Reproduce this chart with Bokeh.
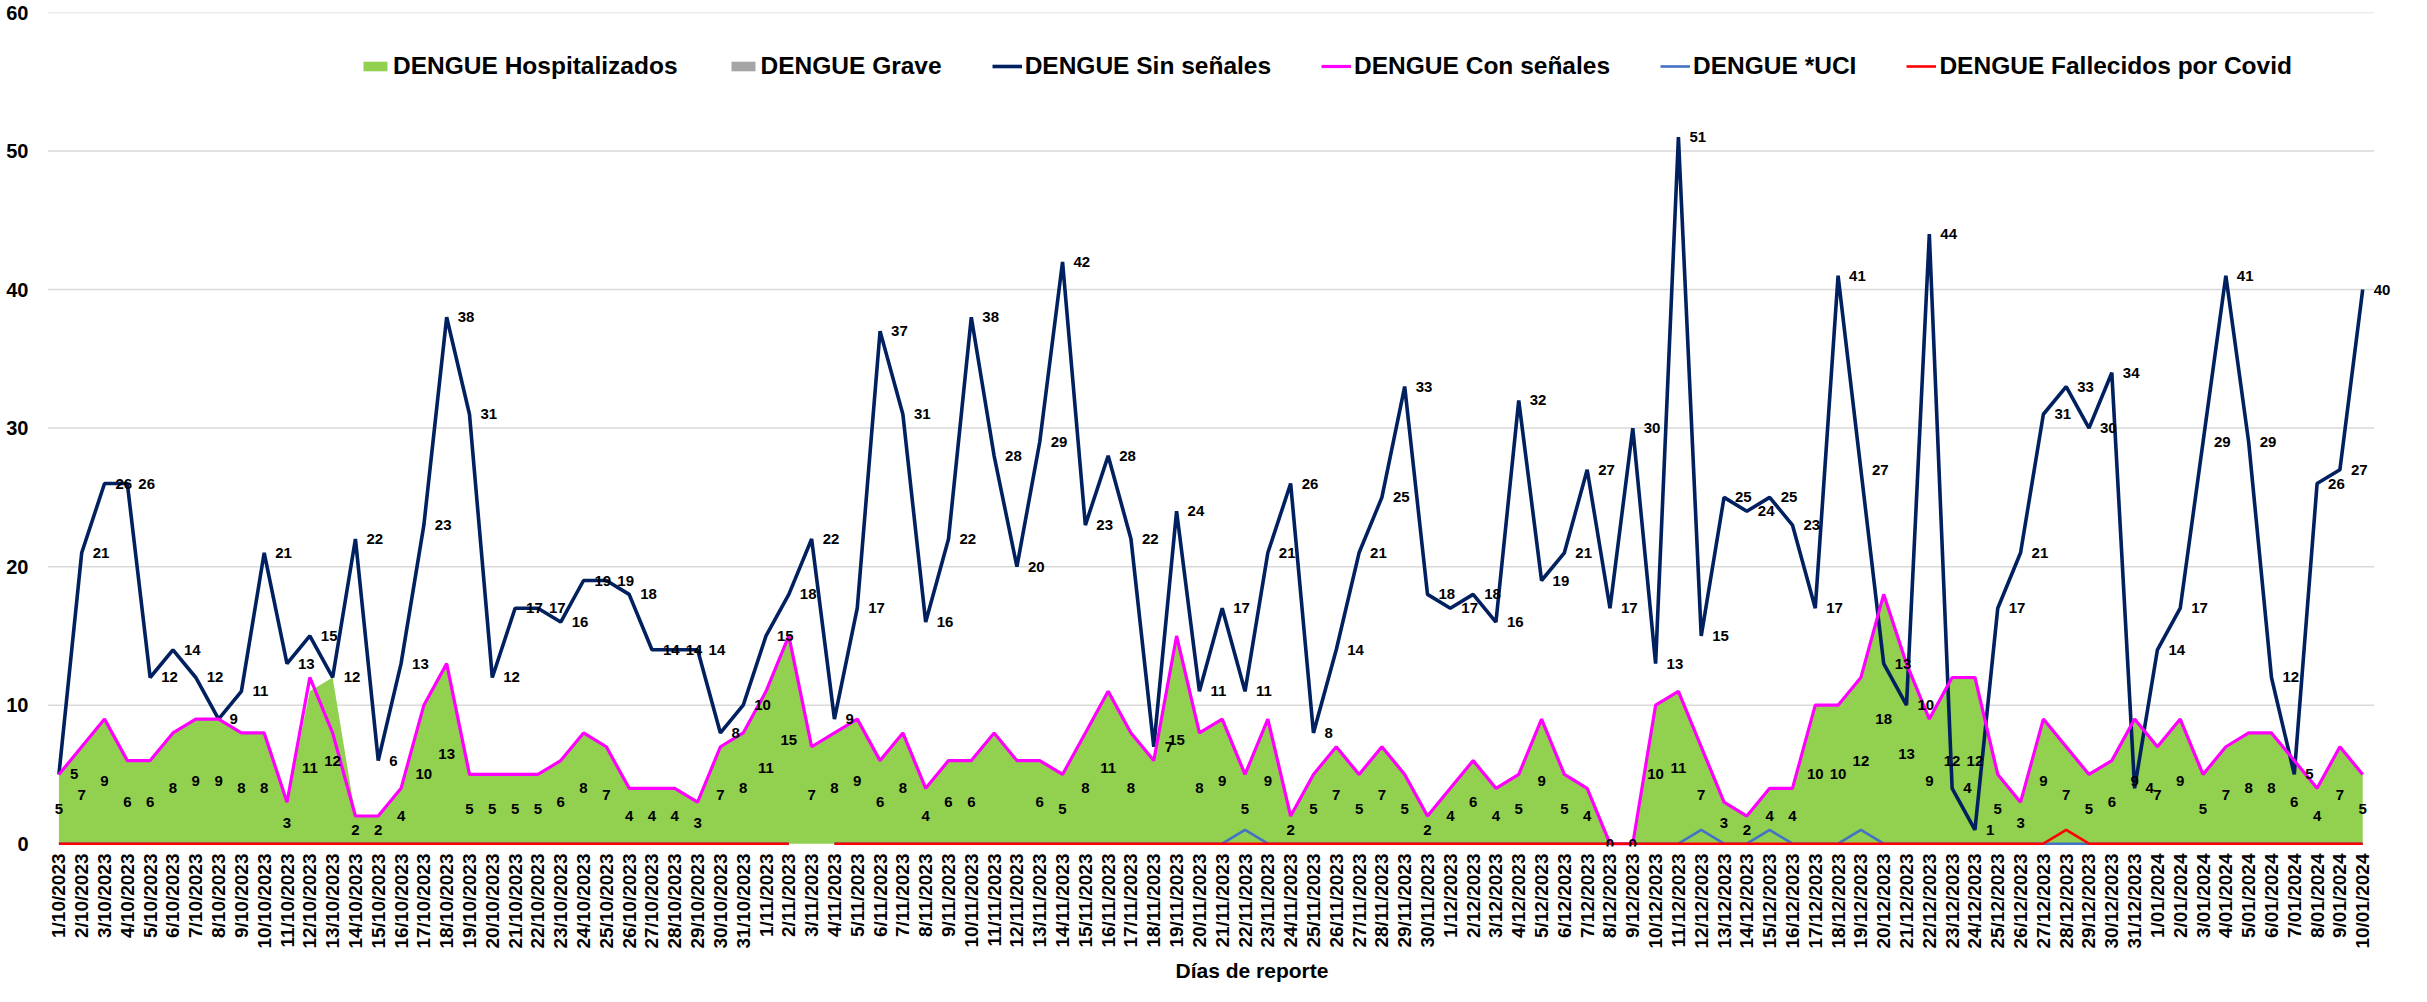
from bokeh.plotting import figure
from bokeh.models import (ColumnDataSource, LabelSet, Legend, LegendItem,
                          FixedTicker, Range1d, Title)
from bokeh.embed import file_html
from bokeh.resources import INLINE
from bokeh.core.properties import value
import math

# ---------------- data ----------------
fechas = ([f"{d}/10/2023" for d in range(1, 32)] +
          [f"{d}/11/2023" for d in range(1, 31)] +
          [f"{d}/12/2023" for d in range(1, 32)] +
          [f"{d}/01/2024" for d in range(1, 11)])

sin_senales = [5, 21, 26, 26, 12, 14, 12, 9, 11, 21, 13, 15, 12, 22, 6, 13, 23, 38, 31, 12,
               17, 17, 16, 19, 19, 18, 14, 14, 14, 8, 10,
               15, 18, 22, 9, 17, 37, 31, 16, 22, 38, 28, 20, 29, 42, 23, 28, 22, 7, 24, 11,
               17, 11, 21, 26, 8, 14, 21, 25, 33, 18,
               17, 18, 16, 32, 19, 21, 27, 17, 30, 13, 51, 15, 25, 24, 25, 23, 17, 41, 27, 13,
               10, 44, 4, 1, 17, 21, 31, 33, 30, 34, 4,
               14, 17, 29, 41, 29, 12, 5, 26, 27, 40]

hospitalizados = [5, 7, 9, 6, 6, 8, 9, 9, 8, 8, 3, 11, 12, 2, 2, 4, 10, 13, 5, 5,
                  5, 5, 6, 8, 7, 4, 4, 4, 3, 7, 8,
                  11, 15, 7, 8, 9, 6, 8, 4, 6, 6, 8, 6, 6, 5, 8, 11, 8, 6, 15, 8,
                  9, 5, 9, 2, 5, 7, 5, 7, 5, 2,
                  4, 6, 4, 5, 9, 5, 4, 0, 0, 10, 11, 7, 3, 2, 4, 4, 10, 10, 12, 18,
                  13, 9, 12, 12, 5, 3, 9, 7, 5, 6, 9,
                  7, 9, 5, 7, 8, 8, 6, 4, 7, 5]

con_senales = [5, 7, 9, 6, 6, 8, 9, 9, 8, 8, 3, 12, 8, 2, 2, 4, 10, 13, 5, 5,
               5, 5, 6, 8, 7, 4, 4, 4, 3, 7, 8,
               11, 15, 7, 8, 9, 6, 8, 4, 6, 6, 8, 6, 6, 5, 8, 11, 8, 6, 15, 8,
               9, 5, 9, 2, 5, 7, 5, 7, 5, 2,
               4, 6, 4, 5, 9, 5, 4, 0, 0, 10, 11, 7, 3, 2, 4, 4, 10, 10, 12, 18,
               13, 9, 12, 12, 5, 3, 9, 7, 5, 6, 9,
               7, 9, 5, 7, 8, 8, 6, 4, 7, 5]

grave = [0] * 102

uci = [0] * 102
for k in (52, 72, 75, 79):
    uci[k] = 1
uci[33] = float("nan")

fallecidos = [0] * 102
fallecidos[88] = 1
fallecidos[33] = float("nan")

y_ticks = [0, 10, 20, 30, 40, 50, 60]

# hospitalizados labels not shown on the original at these positions
sin_etiqueta = {41, 42, 48}

# ---------------- sources ----------------
n = len(fechas)
x = list(range(n))
src = ColumnDataSource(dict(x=x, sin=sin_senales, con=con_senales, hosp=hospitalizados,
                            grave=grave, uci=uci, fall=fallecidos,
                            sin_txt=[str(v) for v in sin_senales]))
hx = [i for i in x if i not in sin_etiqueta]
hsrc = ColumnDataSource(dict(x=hx,
                             y=[hospitalizados[i] / 2 for i in hx],
                             txt=[str(hospitalizados[i]) for i in hx]))

FONT = "Liberation Sans"
STEP = 22.81                      # pixels per day in the reference
W, H = 2411, 986
LEFT, RIGHT, TOP, BOTTOM = 47, 8, 12, 138
x_end = -0.5 + (W - LEFT - RIGHT) / STEP   # extra room on the right for the last label

p = figure(width=W, height=H, output_backend="svg", toolbar_location=None,
           x_range=Range1d(-0.5, x_end), y_range=Range1d(-0.2, 60),
           min_border_left=LEFT, min_border_right=RIGHT, min_border_top=TOP,
           min_border_bottom=BOTTOM)
p.outline_line_color = None
p.background_fill_color = "white"

# horizontal gridlines limited to the category span
gy = [t for t in y_ticks if t > 0]
p.segment(x0=[-0.5] * len(gy), y0=gy, x1=[n - 0.5] * len(gy), y1=gy,
          line_color="#D9D9D9", line_width=1.5)

r_hosp = p.varea(x="x", y1=0, y2="hosp", source=src, fill_color="#92D050")
r_grave = p.varea(x="x", y1=0, y2="grave", source=src, fill_color="#A5A5A5")
r_sin = p.line("x", "sin", source=src, line_color="#002060", line_width=3.6)
r_con = p.line("x", "con", source=src, line_color="#FF00FF", line_width=3.2)
r_uci = p.line("x", "uci", source=src, line_color="#4472C4", line_width=2.6)
r_fall = p.line("x", "fall", source=src, line_color="#FF0000", line_width=2.6)

lab_sin = LabelSet(x="x", y="sin", text="sin_txt", source=src, x_offset=11,
                   text_align="left", text_baseline="middle",
                   text_font=value(FONT), text_font_style="bold",
                   text_font_size="15px", text_color="black")
lab_hosp = LabelSet(x="x", y="y", text="txt", source=hsrc,
                    text_align="center", text_baseline="middle",
                    text_font=value(FONT), text_font_style="bold",
                    text_font_size="15px", text_color="black")
p.add_layout(lab_hosp)
p.add_layout(lab_sin)

# axes
p.xaxis.ticker = FixedTicker(ticks=x)
p.xaxis.major_label_overrides = {i: f for i, f in enumerate(fechas)}
p.xaxis.major_label_orientation = math.pi / 2
p.xaxis.major_label_text_font = FONT
p.xaxis.major_label_text_font_style = "bold"
p.xaxis.major_label_text_font_size = "19px"
p.xaxis.major_label_text_color = "black"
p.xaxis.major_label_standoff = 7
p.xaxis.major_tick_out = 0
p.xaxis.major_tick_in = 0
p.xaxis.minor_tick_out = 0
p.xaxis.minor_tick_in = 0
p.xaxis.axis_line_color = None

p.yaxis.ticker = FixedTicker(ticks=y_ticks)
p.yaxis.axis_line_color = None
p.yaxis.major_tick_out = 0
p.yaxis.major_tick_in = 0
p.yaxis.minor_tick_out = 0
p.yaxis.minor_tick_in = 0
p.yaxis.major_label_text_font = FONT
p.yaxis.major_label_text_font_style = "bold"
p.yaxis.major_label_text_font_size = "20px"
p.yaxis.major_label_text_color = "black"
p.yaxis.major_label_standoff = 19

p.xgrid.grid_line_color = None
p.ygrid.grid_line_color = None

# x-axis title (placed slightly right of centre, as in the reference)
p.add_layout(Title(text="Días de reporte", align="left", offset=1128,
                   text_font=FONT, text_font_style="bold", text_font_size="21px",
                   text_color="black", standoff=10), "below")

legend = Legend(items=[
    LegendItem(label="DENGUE Hospitalizados", renderers=[r_hosp]),
    LegendItem(label="DENGUE Grave", renderers=[r_grave]),
    LegendItem(label="DENGUE Sin señales", renderers=[r_sin]),
    LegendItem(label="DENGUE Con señales", renderers=[r_con]),
    LegendItem(label="DENGUE *UCI", renderers=[r_uci]),
    LegendItem(label="DENGUE Fallecidos por Covid", renderers=[r_fall]),
], orientation="horizontal", location=(313, 766),
    label_text_font=FONT, label_text_font_style="bold", label_text_font_size="24.5px",
    label_text_color="black", glyph_width=30, glyph_height=12, label_standoff=3,
    spacing=50, padding=0, margin=0, background_fill_alpha=0, border_line_alpha=0,
    label_height=24)
p.add_layout(legend, "center")

open("out.html", "w").write(file_html(p, INLINE))
